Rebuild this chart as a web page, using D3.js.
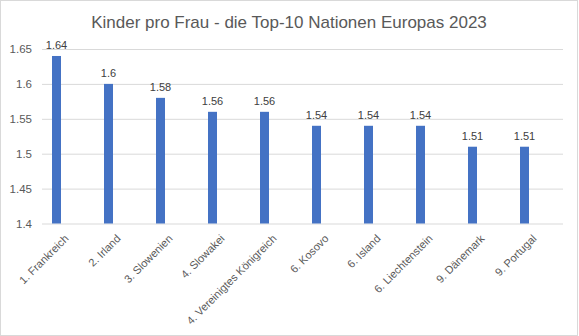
<!DOCTYPE html>
<html><head><meta charset="utf-8">
<script src="https://cdn.jsdelivr.net/npm/d3@7"></script>
<style>body{margin:0;background:#fff}svg{display:block}</style>
</head><body>
<script>
const categories = ["1. Frankreich","2. Irland","3. Slowenien","4. Slowakei","4. Vereinigtes Königreich","6. Kosovo","6. Island","6. Liechtenstein","9. Dänemark","9. Portugal"];
const values = [1.64,1.6,1.58,1.56,1.56,1.54,1.54,1.54,1.51,1.51];
const yTicks = [1.4,1.45,1.5,1.55,1.6,1.65];
const title = "Kinder pro Frau - die Top-10 Nationen Europas 2023";

const W=579,H=336;
const font="'Liberation Sans', Arial, sans-serif";
const svg=d3.select("body").append("svg").attr("width",W).attr("height",H);
svg.append("rect").attr("x",0.5).attr("y",0.5).attr("width",577).attr("height",335)
  .attr("fill","#fff").attr("stroke","#d9d9d9");

const gridX0=42,gridX1=563;
const x=d3.scaleBand().domain(categories).range([30.5,550.5]).paddingInner(0.827).paddingOuter(0.4135);
const y=d3.scaleLinear().domain([1.4,1.65]).range([223.5,49]);

svg.append("text").attr("x",289).attr("y",28).attr("text-anchor","middle")
  .attr("font-family",font).attr("font-size",17).attr("fill","#595959").text(title);

const yAxis=d3.axisLeft(y).tickValues(yTicks).tickSize(gridX1-gridX0).tickFormat(d=>String(+d.toFixed(2)));
const gy=svg.append("g").attr("transform",`translate(${gridX1},0)`).call(yAxis);
gy.select(".domain").remove();
gy.selectAll(".tick line").attr("stroke","#d9d9d9");
gy.selectAll(".tick text").attr("x",-(gridX1-gridX0)-10).attr("font-family",font).attr("font-size",11.5).attr("fill","#595959");

svg.append("g").selectAll("rect").data(values).join("rect")
  .attr("x",(d,i)=>x(categories[i])).attr("width",x.bandwidth())
  .attr("y",d=>y(d)).attr("height",d=>y(1.4)-y(d)).attr("fill","#4472c4");

svg.append("g").selectAll("text").data(values).join("text")
  .attr("x",(d,i)=>x(categories[i])+x.bandwidth()/2).attr("y",d=>y(d)-7)
  .attr("text-anchor","middle").attr("font-family",font).attr("font-size",11).attr("fill","#404040")
  .text(d=>String(d));

const xAxis=d3.axisBottom(x).tickSize(0);
const gx=svg.append("g").attr("transform",`translate(0,${y(1.4)})`).call(xAxis);
gx.select(".domain").remove();
gx.selectAll(".tick text").attr("font-family",font).attr("font-size",11).attr("fill","#595959")
  .attr("text-anchor","end").attr("dy","0.35em").attr("y",0)
  .attr("transform","translate(10,13) rotate(-45)");
</script>
</body></html>
